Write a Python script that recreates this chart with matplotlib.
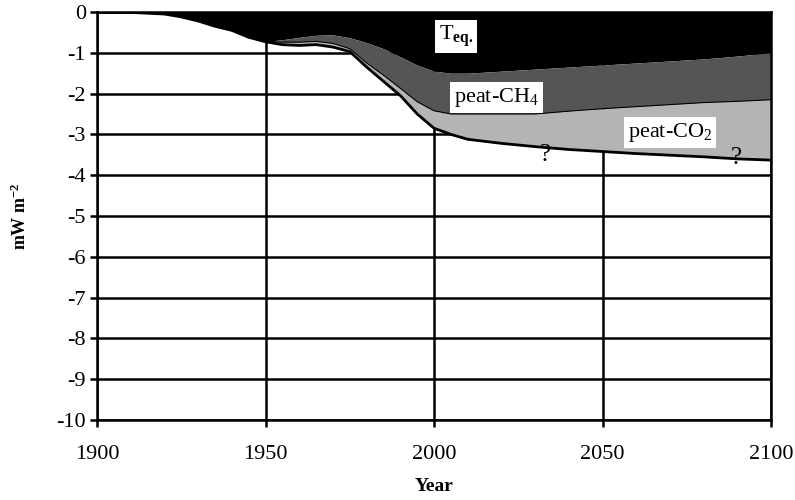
import numpy as np
import matplotlib.pyplot as plt

plt.rcParams['font.family'] = ['Liberation Serif', 'DejaVu Serif']
plt.rcParams['mathtext.fontset'] = 'custom'
plt.rcParams['mathtext.rm'] = 'Liberation Serif'
plt.rcParams['mathtext.it'] = 'Liberation Serif:italic'
plt.rcParams['mathtext.bf'] = 'Liberation Serif:bold'
plt.rcParams['axes.unicode_minus'] = False

# lower edges of the stacked areas (mW m-2)
years = [1900, 1910, 1920, 1925, 1930, 1935, 1940, 1945, 1950, 1955, 1960, 1965,
         1970, 1975, 1980, 1985, 1990, 1995, 2000, 2005, 2010, 2020, 2030, 2040,
         2050, 2060, 2070, 2080, 2090, 2100]
teq_edge = [0, -0.01, -0.05, -0.12, -0.22, -0.35, -0.45, -0.62, -0.72, -0.68, -0.62, -0.57,
            -0.56, -0.63, -0.75, -0.9, -1.1, -1.3, -1.45, -1.5, -1.5, -1.45, -1.4, -1.35,
            -1.3, -1.25, -1.2, -1.15, -1.08, -1.0]
ch4_edge = [0, -0.01, -0.05, -0.12, -0.22, -0.35, -0.45, -0.62, -0.72, -0.74, -0.74, -0.72,
            -0.77, -0.9, -1.25, -1.55, -1.87, -2.2, -2.42, -2.5, -2.5, -2.5, -2.5, -2.43,
            -2.37, -2.32, -2.27, -2.22, -2.19, -2.15]
total_edge = [0, -0.01, -0.05, -0.12, -0.22, -0.35, -0.45, -0.62, -0.73, -0.8, -0.82, -0.8,
              -0.86, -0.97, -1.35, -1.7, -2.05, -2.5, -2.85, -3.0, -3.12, -3.22, -3.3, -3.37,
              -3.42, -3.47, -3.51, -3.55, -3.6, -3.63]

x_ticks = [1900, 1950, 2000, 2050, 2100]
y_ticks = list(range(-10, 1))

fig = plt.figure(figsize=(7.95, 5.0), dpi=100)
ax = fig.add_axes([0.122, 0.16, 0.848, 0.816])

ax.fill_between(years, 0, teq_edge, color='black', lw=0, zorder=2)
ax.fill_between(years, teq_edge, ch4_edge, color='#555555', lw=0, zorder=2)
ax.fill_between(years, ch4_edge, total_edge, color='#b4b4b4', lw=0, zorder=2)
ax.plot(years, total_edge, color='black', lw=2, zorder=3)
ax.plot(years, ch4_edge, color='black', lw=0.8, zorder=3)

ax.set_xlim(1900, 2100)
ax.set_ylim(-10, 0)
ax.set_xticks(x_ticks)
ax.set_yticks(y_ticks)
ax.set_yticklabels([str(v) for v in y_ticks])
ax.grid(True, color='black', lw=1.8)
ax.set_axisbelow(True)
for s in ax.spines.values():
    s.set_linewidth(1.8)
ax.tick_params(axis='both', labelsize=16, width=1.8, length=5)
ax.tick_params(axis='x', pad=13)
ax.tick_params(axis='y', pad=3)

ax.set_xlabel('Year', fontsize=14, fontweight='bold', labelpad=10)
ax.set_ylabel('mW m$^{\\mathbf{-2}}$', fontsize=13, fontweight='bold', labelpad=19)

box = dict(facecolor='white', edgecolor='none', pad=3)
ax.text(2006.5, -0.6, '$\\mathrm{T}_{\\mathbf{eq.}}$', fontsize=16, ha='center', va='center', bbox=box, zorder=5)
ax.text(2018.5, -2.1, 'peat-CH$_4$', fontsize=16, ha='center', va='center', bbox=box, zorder=5)
ax.text(2070, -2.95, 'peat-CO$_2$', fontsize=16, ha='center', va='center', bbox=box, zorder=5)
ax.text(2033, -3.5, '?', fontsize=18, ha='center', va='center', zorder=5)
ax.text(2089.5, -3.58, '?', fontsize=18, ha='center', va='center', zorder=5)

fig.savefig('out.png', dpi=100)
